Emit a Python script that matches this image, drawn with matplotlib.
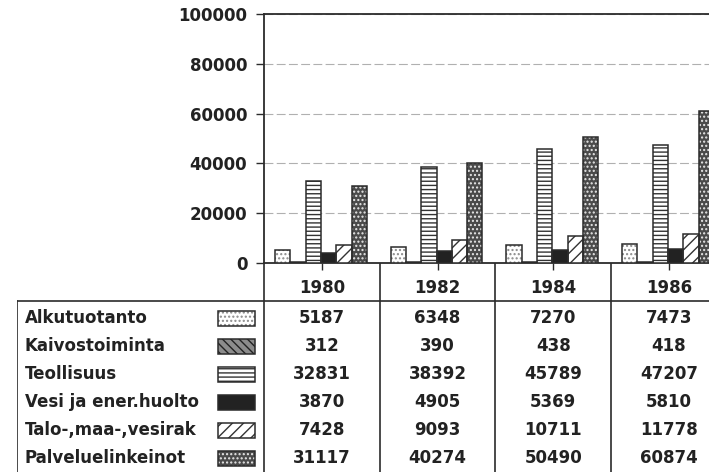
import numpy as np
import matplotlib
matplotlib.use("Agg")
from matplotlib import pyplot as plt
from matplotlib.patches import Rectangle

plt.rcParams['font.family'] = ['DejaVu Sans']
plt.rcParams['font.weight'] = 'bold'
plt.rcParams['hatch.linewidth'] = 1.0

# data
years = ['1980', '1982', '1984', '1986']
alkutuotanto = [5187, 6348, 7270, 7473]
kaivostoiminta = [312, 390, 438, 418]
teollisuus = [32831, 38392, 45789, 47207]
vesi_energia = [3870, 4905, 5369, 5810]
talonrakennus = [7428, 9093, 10711, 11778]
palvelut = [31117, 40274, 50490, 60874]

labels = ['Alkutuotanto', 'Kaivostoiminta', 'Teollisuus',
          'Vesi ja ener.huolto', 'Talo-,maa-,vesirak', 'Palveluelinkeinot']
series = [alkutuotanto, kaivostoiminta, teollisuus, vesi_energia, talonrakennus, palvelut]

# fill, hatch colour, hatch
styles = [('white', '#8a8a8a', '....'),
          ('#8c8c8c', '#222222', '\\\\\\\\'),
          ('white', '#333333', '----'),
          ('#222222', '#222222', ''),
          ('white', '#333333', '///'),
          ('#4a4a4a', '#e8e8e8', '....')]

ink = '#2b2b2b'
W, H = 709, 472
gw = 115.67  # group width in px

fig = plt.figure(figsize=(W / 100, H / 100), dpi=100)
ax = fig.add_axes([264 / W, (H - 263) / H, 4 * gw / W, 249 / H])

bw = 15.3 / gw
off = 11 / gw
x0 = np.arange(len(years))
for i, vals in enumerate(series):
    fc, hc, hatch = styles[i]
    xs = x0 + off + bw * i
    # hatch layer, then outline
    ax.bar(xs, vals, width=bw, align='edge', color=fc, edgecolor=hc,
           hatch=hatch, linewidth=0, zorder=3)
    ax.bar(xs, vals, width=bw, align='edge', fill=False, edgecolor=ink,
           linewidth=1.1, zorder=4)

ax.set_xlim(0, 4)
ax.set_ylim(0, 100000)
ax.set_yticks(np.arange(0, 100001, 20000))
ax.set_yticklabels([str(v) for v in range(0, 100001, 20000)], fontsize=12,
                   fontweight='bold', color='#222222')
ax.set_xticks(x0 + 0.5)
ax.tick_params(axis='x', direction='out', length=5, width=1, color=ink, labelbottom=False)
ax.tick_params(axis='y', direction='out', length=6, width=1, color=ink, pad=6)
ax.yaxis.grid(True, color='#b0b0b0', linestyle=(0, (8, 3)), linewidth=0.8)
ax.set_axisbelow(True)
for s in ['left', 'bottom', 'top', 'right']:
    ax.spines[s].set_color(ink)
    ax.spines[s].set_linewidth(1.3)

# data table under the plot
tx0 = 17
xl = -(264 - tx0) / gw
tax = fig.add_axes([tx0 / W, 0, (264 + 4 * gw - tx0) / W, (H - 263) / H])
tax.set_xlim(xl, 4)
tax.set_ylim(H, 263)
tax.axis('off')

line_kw = dict(color=ink, linewidth=1.2)
for k in range(len(years)):
    tax.plot([k, k], [263, H], **line_kw)
    tax.text(k + 0.5, 288, years[k], ha='center', va='center', fontsize=12,
             fontweight='bold', color='#222222')
tax.plot([xl, 4], [301, 301], **line_kw)
tax.plot([xl, xl], [301, H], **line_kw)

row_y = 318 + 28 * np.arange(len(labels))
for i, lab in enumerate(labels):
    y = row_y[i]
    tax.text((25 - 264) / gw, y, lab, ha='left', va='center', fontsize=12,
             fontweight='bold', color='#222222')
    fc, hc, hatch = styles[i]
    sx, sw = (218 - 264) / gw, 37 / gw
    tax.add_patch(Rectangle((sx, y - 7.5), sw, 15, facecolor=fc, edgecolor=hc,
                            hatch=hatch, linewidth=0))
    tax.add_patch(Rectangle((sx, y - 7.5), sw, 15, fill=False, edgecolor=ink,
                            linewidth=1.1))
    for k, v in enumerate(series[i]):
        tax.text(k + 0.5, y, str(v), ha='center', va='center', fontsize=12,
                 fontweight='bold', color='#222222')

fig.savefig('out.png', dpi=100)
